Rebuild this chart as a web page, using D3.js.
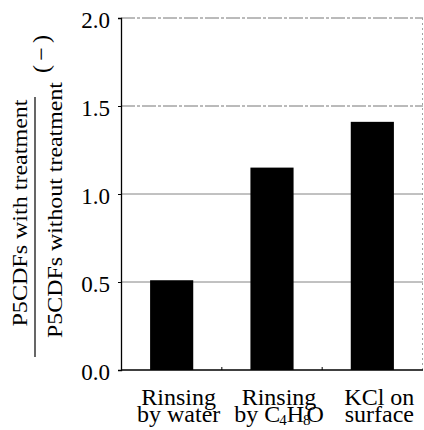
<!DOCTYPE html>
<html lang="en">
<head>
<meta charset="UTF-8">
<title>P5CDFs ratio</title>
<script src="https://cdn.jsdelivr.net/npm/d3@7"></script>
<style>
  body { margin: 0; background: #fff; }
</style>
</head>
<body>
<svg id="chart" width="424" height="430"></svg>
<script>
// data
const categories = ["water", "c4h8o", "kcl"];
const labelLine1 = ["Rinsing", "Rinsing", "KCl on"];
const labelLine2 = ["by water", "by C4H8O", "surface"];
const ratios = [0.51, 1.15, 1.41];
const yTicks = [0.0, 0.5, 1.0, 1.5, 2.0];

const serif = "'Liberation Serif', 'Times New Roman', Times, 'DejaVu Serif', serif";
const svg = d3.select("#chart").style("font-family", serif);
const plotLeft = 121, plotRight = 423, plotTop = 18, plotBottom = 370;

const x = d3.scaleBand()
    .domain(categories)
    .range([plotLeft, plotRight])
    .paddingInner(0.57)
    .paddingOuter(0.29);

const y = d3.scaleLinear().domain([0, 2]).range([plotBottom, plotTop]);

// grid lines
svg.append("g").selectAll("line")
    .data(yTicks.filter(d => d > 0))
    .join("line")
    .attr("x1", plotLeft).attr("x2", plotRight)
    .attr("y1", d => y(d)).attr("y2", d => y(d))
    .attr("stroke", d => d == 2 || d == 1.5 ? "#666" : "#777")
    .attr("stroke-width", 0.9)
    .attr("stroke-dasharray", d => d == 2 || d == 1.5 ? "14,2,3,2" : null);

// right frame (faint, dotted)
svg.append("line")
    .attr("x1", plotRight - 0.5).attr("x2", plotRight - 0.5)
    .attr("y1", plotTop).attr("y2", plotBottom)
    .attr("stroke", "#999")
    .attr("stroke-width", 0.9)
    .attr("stroke-dasharray", "2,3");

// bars
svg.append("g").selectAll("rect")
    .data(categories)
    .join("rect")
    .attr("x", d => x(d))
    .attr("width", x.bandwidth())
    .attr("y", (d, i) => y(ratios[i]))
    .attr("height", (d, i) => y(0) - y(ratios[i]))
    .attr("fill", "#000");

// y axis
const yAxis = d3.axisLeft(y)
    .tickValues(yTicks)
    .tickFormat(d3.format(".1f"))
    .tickSize(3)
    .tickPadding(8);
const ya = svg.append("g")
    .attr("transform", `translate(${plotLeft},0)`)
    .call(yAxis)
    .attr("font-family", null)
    .attr("font-size", null);
ya.select(".domain").attr("stroke", "#000").attr("stroke-width", 1.3);
ya.selectAll(".tick line").attr("stroke", "#000");
ya.selectAll(".tick text")
    .style("font-family", serif)
    .attr("font-size", 23)
    .attr("fill", "#000")
    .attr("dy", "0.42em");

// x axis line + small separator ticks between categories
svg.append("line")
    .attr("x1", plotLeft).attr("x2", plotRight)
    .attr("y1", plotBottom).attr("y2", plotBottom)
    .attr("stroke", "#000").attr("stroke-width", 1.3);

const step = x.step();
svg.append("g").selectAll("line")
    .data(categories.slice(0, -1))
    .join("line")
    .attr("x1", d => x(d) + x.bandwidth() + (step - x.bandwidth()) / 2)
    .attr("x2", d => x(d) + x.bandwidth() + (step - x.bandwidth()) / 2)
    .attr("y1", plotBottom).attr("y2", plotBottom - 3)
    .attr("stroke", "#000");

// category labels
const labels = svg.append("g").selectAll("text")
    .data(categories)
    .join("text")
    .style("font-family", serif)
    .attr("text-anchor", "middle")
    .attr("font-size", 24);
labels.append("tspan")
    .attr("x", d => x(d) + x.bandwidth() / 2 + 7)
    .attr("y", 405)
    .text((d, i) => labelLine1[i]);
labels.append("tspan")
    .attr("x", d => x(d) + x.bandwidth() / 2 + 7)
    .attr("y", 422)
    .each(function (d, i) {
        const t = d3.select(this);
        if (d == "c4h8o") {
            t.append("tspan").text("by C");
            t.append("tspan").attr("font-size", 15).attr("dy", 3).attr("dx", -1).text("4");
            t.append("tspan").attr("dy", -3).text("H");
            t.append("tspan").attr("font-size", 15).attr("dy", 3).attr("dx", -1).text("8");
            t.append("tspan").attr("dy", -3).attr("dx", -4).text("O");
        } else {
            t.text(labelLine2[i]);
        }
    });

// y label as a fraction
svg.append("text")
    .style("font-family", serif)
    .attr("transform", "translate(27,213) rotate(-90)")
    .attr("text-anchor", "middle")
    .attr("font-size", 22)
    .attr("textLength", 227)
    .attr("lengthAdjust", "spacingAndGlyphs")
    .text("P5CDFs with treatment");

svg.append("line")
    .attr("x1", 35).attr("x2", 35)
    .attr("y1", 97).attr("y2", 357)
    .attr("stroke", "#000").attr("stroke-width", 1.2);

svg.append("text")
    .style("font-family", serif)
    .attr("transform", "translate(62,210) rotate(-90)")
    .attr("text-anchor", "middle")
    .attr("font-size", 22)
    .attr("textLength", 256)
    .attr("lengthAdjust", "spacingAndGlyphs")
    .text("P5CDFs without treatment");

svg.append("text")
    .style("font-family", serif)
    .attr("transform", "translate(49,54) rotate(-90)")
    .attr("text-anchor", "middle")
    .attr("font-size", 24)
    .attr("textLength", 38)
    .attr("lengthAdjust", "spacing")
    .text("(\u2212)");
</script>
</body>
</html>
